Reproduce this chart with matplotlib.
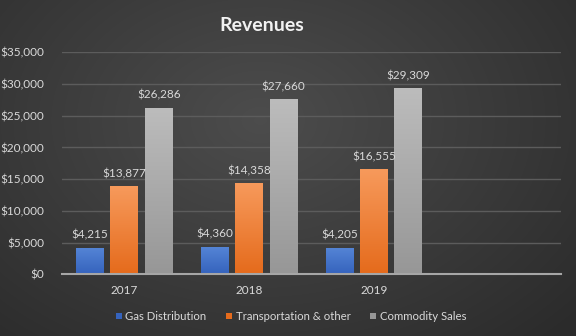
import numpy as np
import matplotlib
matplotlib.use("Agg")
import matplotlib.pyplot as plt
from matplotlib.ticker import FuncFormatter, MultipleLocator

years = ["2017", "2018", "2019", ""]
gas = [4215, 4360, 4205]
transport = [13877, 14358, 16555]
commodity = [26286, 27660, 29309]
series_names = ["Gas Distribution", "Transportation & other", "Commodity Sales"]

plt.rcParams['font.family'] = ['Lato', 'DejaVu Sans']
txt = '#d9d9d9'

fig = plt.figure(figsize=(5.76, 3.36), dpi=100)

# radial-ish dark background
bg = fig.add_axes([0, 0, 1, 1], zorder=-1)
yy, xx = np.mgrid[0:336, 0:576]
r = np.sqrt(((xx - 260) / 420.0) ** 2 + ((yy - 120) / 300.0) ** 2)
shade = 0.30 - 0.13 * np.clip(r, 0, 1)
bg.imshow(np.dstack([shade] * 3), aspect='auto', extent=[0, 1, 0, 1])
bg.axis('off')

ax = fig.add_axes([0.1076, 0.1836, 0.8667, 0.6607])
ax.patch.set_alpha(0)

x = np.arange(len(years))
w = 0.224
off = 0.276
tops = [('#5585d6', '#3563bd'), ('#f79a5c', '#e56b1c'), ('#bcbcbc', '#979797')]

for i, (vals, name) in enumerate(zip([gas, transport, commodity], series_names)):
    pos = x[:len(vals)] + (i - 1) * off
    bars = ax.bar(pos, vals, w, color=tops[i][1], label=name, zorder=3,
                  edgecolor='none')
    # vertical gradient fill like the original
    c1 = np.array(matplotlib.colors.to_rgb(tops[i][0]))
    c2 = np.array(matplotlib.colors.to_rgb(tops[i][1]))
    t = np.linspace(0, 1, 64)[:, None]
    grad = (c1 * (1 - t) + c2 * t)[:, None, :]
    for b in bars:
        x0, y0 = b.get_x(), b.get_y()
        im = ax.imshow(grad, aspect='auto', zorder=3.5,
                       extent=[x0, x0 + b.get_width(), y0, y0 + b.get_height()])
        im.set_clip_path(b)
    for p, v in zip(pos, vals):
        ax.annotate(f"${v:,}", (p, v), xytext=(0, 5), textcoords='offset points',
                    ha='center', va='bottom', color=txt, fontsize=8.5, zorder=5)

ax.set_xlim(-0.5, 3.5)
ax.set_ylim(0, 35000)
ax.yaxis.set_major_locator(MultipleLocator(5000))
ax.yaxis.set_major_formatter(FuncFormatter(lambda v, p: f"${v:,.0f}"))
ax.set_xticks(x[:3])
ax.set_xticklabels(years[:3])
ax.tick_params(length=0, colors=txt, labelsize=8.5)
ax.tick_params(axis='y', pad=13)
ax.tick_params(axis='x', pad=8)
ax.grid(axis='y', color='#5c5c5c', linewidth=1, zorder=0)
for s in ['top', 'right', 'left']:
    ax.spines[s].set_visible(False)
ax.spines['bottom'].set_color('#a6a6a6')
ax.spines['bottom'].set_linewidth(1.5)
ax.spines['bottom'].set_zorder(4)

fig.text(0.455, 0.925, "Revenues", ha='center', va='center', color='#f2f2f2',
         fontsize=14, fontweight='bold')

leg = fig.legend(loc='center', bbox_to_anchor=(0.505, 0.058), ncol=3, frameon=False,
                 fontsize=8.2, handlelength=0.55, handleheight=0.55,
                 handletextpad=0.3, columnspacing=1.7)
for tx in leg.get_texts():
    tx.set_color(txt)

fig.savefig("out.png", dpi=100)
